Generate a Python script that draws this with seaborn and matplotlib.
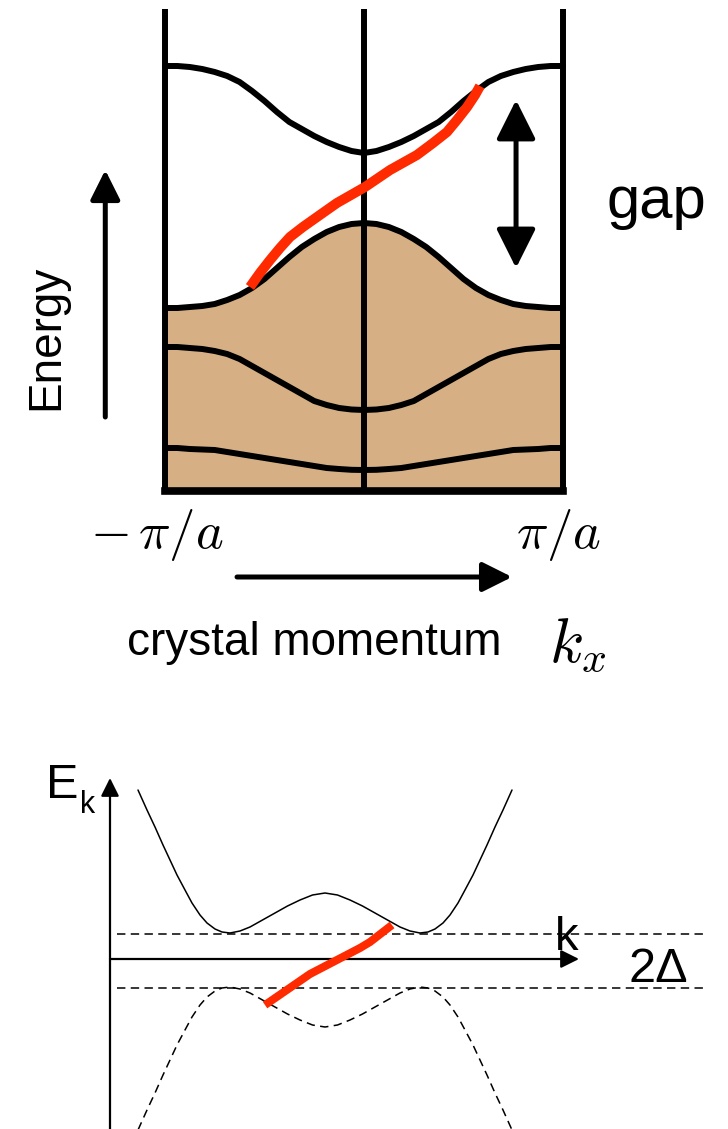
import numpy as np
import seaborn as sns
import matplotlib.pyplot as plt

# top panel: bands vs crystal momentum (k in units of pi/a), read for k >= 0, bands are symmetric
k_half = [0, 0.0625, 0.125, 0.1875, 0.25, 0.3125, 0.375, 0.4375, 0.5,
          0.5625, 0.625, 0.6875, 0.75, 0.8125, 0.875, 0.9375, 1]
band1_half = [3.39, 3.41, 3.45, 3.50, 3.56, 3.63, 3.70, 3.80, 3.91,
              4.01, 4.10, 4.16, 4.20, 4.23, 4.25, 4.26, 4.26]
band2_half = [2.69, 2.68, 2.65, 2.60, 2.53, 2.45, 2.35, 2.24, 2.13,
              2.04, 1.97, 1.92, 1.88, 1.86, 1.85, 1.84, 1.84]
band3_half = [0.82, 0.825, 0.84, 0.87, 0.91, 0.98, 1.05, 1.12, 1.19,
              1.26, 1.33, 1.38, 1.41, 1.43, 1.44, 1.45, 1.45]
band4_half = [0.22, 0.222, 0.23, 0.24, 0.26, 0.28, 0.30, 0.32, 0.34,
              0.36, 0.38, 0.40, 0.42, 0.425, 0.43, 0.44, 0.44]
k_edge = [-1, 0, 1]
e_top = 4.83
k_red = [-0.573, -0.523, -0.472, -0.422, -0.372, -0.307, -0.236, -0.136, 0.005,
         0.131, 0.266, 0.347, 0.417, 0.467, 0.518, 0.558, 0.583]
e_red = [2.05, 2.19, 2.32, 2.44, 2.55, 2.65, 2.75, 2.89, 3.05,
         3.22, 3.37, 3.49, 3.60, 3.72, 3.85, 3.97, 4.06]

# bottom panel: E_k with gap 2 Delta (read for k >= 0, symmetric)
kb_half = [0, 0.125, 0.25, 0.375, 0.5, 0.625, 0.75, 0.85, 0.95, 1.03, 1.1,
           1.18, 1.25, 1.33, 1.4, 1.48, 1.55, 1.62, 1.7, 1.78, 1.87]
eup_half = [0.67, 0.65, 0.60, 0.54, 0.47, 0.40, 0.33, 0.29, 0.27, 0.28, 0.31,
            0.37, 0.45, 0.57, 0.70, 0.85, 1.00, 1.15, 1.33, 1.50, 1.70]
elo_half = [-0.67, -0.65, -0.60, -0.54, -0.47, -0.40, -0.33, -0.29, -0.27, -0.28, -0.31,
            -0.37, -0.45, -0.57, -0.70, -0.85, -1.00, -1.15, -1.33, -1.50, -1.70]
gap_levels = [0.26, -0.28]
k_red2 = [-0.60, -0.15, 0.35, 0.45, 0.67]
e_red2 = [-0.45, -0.14, 0.12, 0.18, 0.35]


def full(half, neg=False):
    if neg:
        return [-v for v in half[::-1]] + list(half[1:])
    return list(half[::-1]) + list(half[1:])


k_top = full(k_half, neg=True)
k_bot = full(kb_half, neg=True)

sns.set_style("white")
plt.rcParams['font.family'] = ['Liberation Sans', 'DejaVu Sans']
plt.rcParams['text.color'] = 'black'

fig = plt.figure(figsize=(7.28, 11.29), dpi=100)
tan = "#D6B084"
red = "#FF2A00"

# ---------- top ----------
ax = fig.add_axes([0, 429/1129, 1, 700/1129])
ax.set_xlim(-1.829, 1.829)
ax.set_ylim(-2.08, 4.92)
ax.axis('off')

ax.fill_between(k_top, 0, full(band2_half), color=tan, lw=0, zorder=1)
for b in [band1_half, band2_half, band3_half, band4_half]:
    sns.lineplot(x=k_top, y=full(b), ax=ax, color='black', lw=4.3, zorder=3)
ax.vlines(k_edge, 0, e_top, color='black', lw=4.3, zorder=4)
ax.plot([-1, 1], [0.01, 0.01], color='black', lw=5.5, solid_capstyle='projecting', zorder=4)
sns.lineplot(x=k_red, y=e_red, ax=ax, color=red, lw=7.2, sort=False,
             solid_capstyle='butt', zorder=5)

ax.annotate("", xy=(0.764, 3.92), xytext=(0.764, 2.24),
            arrowprops=dict(arrowstyle='<|-|>,head_length=1.0,head_width=0.5',
                            mutation_scale=24, lw=3.6, color='black',
                            shrinkA=0, shrinkB=0))
ax.text(1.22, 2.74, "gap", fontsize=43, ha='left', va='baseline')

ax.annotate("", xy=(-1.30, 3.22), xytext=(-1.30, 0.75),
            arrowprops=dict(arrowstyle='-|>,head_length=1.0,head_width=0.5',
                            mutation_scale=18, lw=3.6, color='black',
                            shrinkA=0, shrinkB=0))
ax.text(-1.598, 1.55, "Energy", fontsize=33, rotation=90, ha='center', va='center')

ax.text(-1.04, -0.43, r"$-\,\pi/a$", fontsize=38, math_fontfamily='cm',
        ha='center', va='center')
ax.text(0.975, -0.43, r"$\pi/a$", fontsize=38, math_fontfamily='cm',
        ha='center', va='center')
ax.annotate("", xy=(0.744, -0.85), xytext=(-0.638, -0.85),
            arrowprops=dict(arrowstyle='-|>,head_length=1.0,head_width=0.5',
                            mutation_scale=18, lw=3.6, color='black',
                            shrinkA=0, shrinkB=0))
ax.text(-0.25, -1.51, "crystal momentum", fontsize=33, ha='center', va='center')
ax.text(1.075, -1.53, r"$k_x$", fontsize=45, math_fontfamily='cm',
        ha='center', va='center')

# ---------- bottom ----------
bx = fig.add_axes([0, 0, 1, 429/1129])
bx.set_xlim(-3.25, 4.03)
bx.set_ylim(-1.69, 2.60)
bx.axis('off')

sns.lineplot(x=k_bot, y=full(eup_half), ax=bx, color='black', lw=1.1)
sns.lineplot(x=k_bot, y=full(elo_half), ax=bx, color='black', lw=1.1,
             linestyle=(0, (5.5, 3.5)))
for g in gap_levels:
    bx.plot([-2.08, 3.78], [g, g], color='black', lw=1.1, linestyle=(0, (5.5, 3.5)))

bx.annotate("", xy=(-2.15, 1.82), xytext=(-2.15, -1.69),
            arrowprops=dict(arrowstyle='-|>,head_length=1.0,head_width=0.5',
                            mutation_scale=11, lw=1.6, color='black',
                            shrinkA=0, shrinkB=0))
bx.annotate("", xy=(2.54, 0.01), xytext=(-2.15, 0.01),
            arrowprops=dict(arrowstyle='-|>,head_length=1.0,head_width=0.5',
                            mutation_scale=11, lw=1.6, color='black',
                            shrinkA=0, shrinkB=0))
sns.lineplot(x=k_red2, y=e_red2, ax=bx, color=red, lw=5.8, sort=False,
             solid_capstyle='butt', zorder=5)

bx.text(-2.63, 1.75, "E", fontsize=35, ha='center', va='center')
bx.text(-2.37, 1.55, "k", fontsize=22, ha='center', va='center')
bx.text(2.42, 0.22, "k", fontsize=34, ha='center', va='center')
bx.text(3.33, -0.09, "2Δ", fontsize=35, ha='center', va='center')

fig.savefig("out.png", dpi=100)
